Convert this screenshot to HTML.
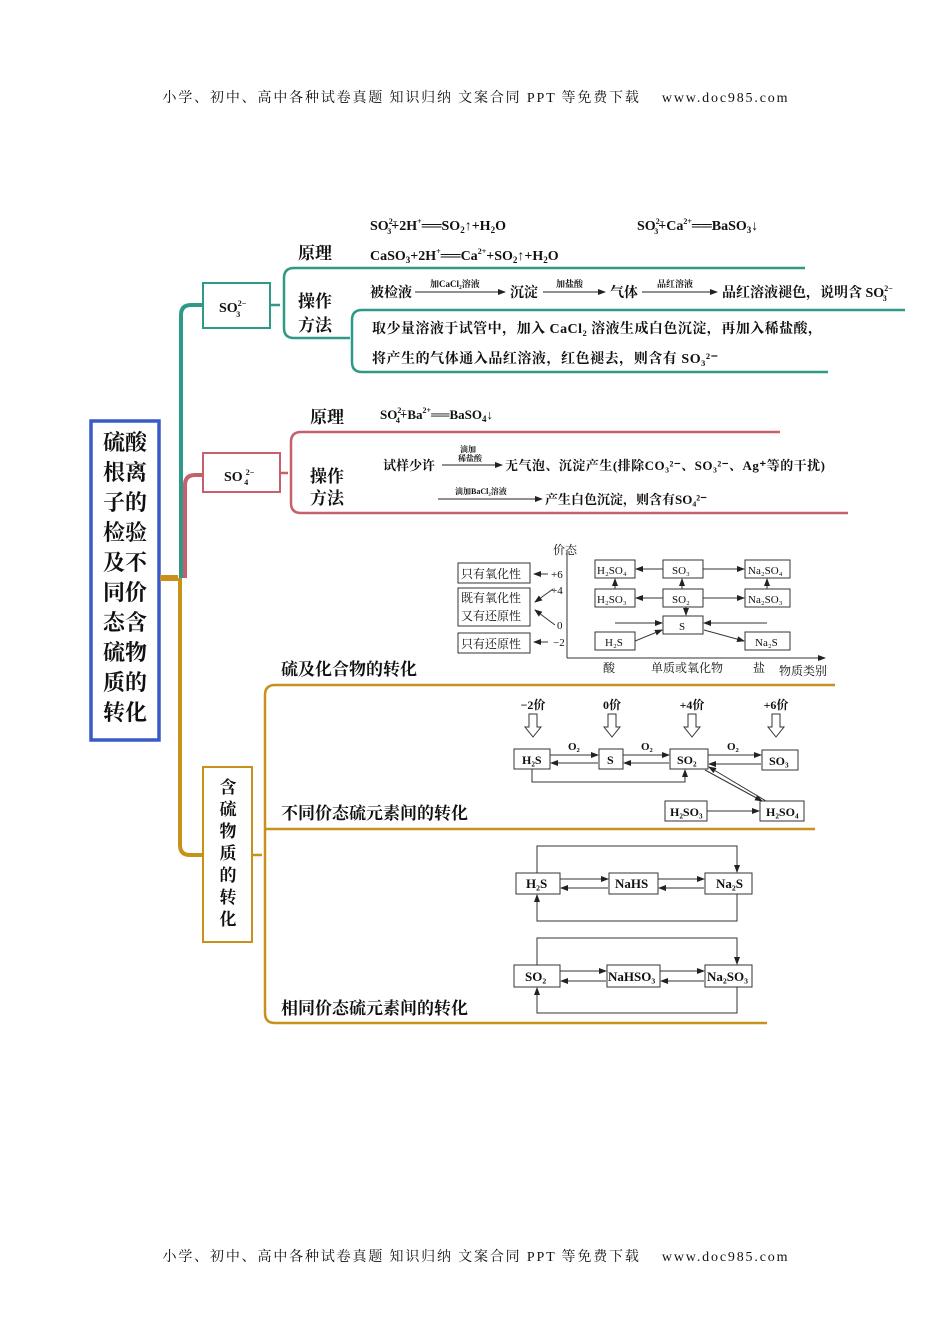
<!DOCTYPE html>
<html><head><meta charset="utf-8"><style>
html,body{margin:0;padding:0;background:#fff}
svg{display:block}
text{font-family:"Liberation Serif","Noto Serif CJK SC",serif;fill:#111}
.b{font-weight:bold}
.s{font-family:"Liberation Sans","Noto Sans CJK SC",sans-serif}
</style></head><body>
<svg width="950" height="1344" viewBox="0 0 950 1344" xmlns="http://www.w3.org/2000/svg">
<defs>
<marker id="a" markerWidth="8" markerHeight="6" refX="7" refY="3" orient="auto"><path d="M0,0 L8,3 L0,6 Z" fill="#222"/></marker>
</defs>
<text x="475" y="102" font-size="14" text-anchor="middle" fill="#333" textLength="625">小学、初中、高中各种试卷真题 知识归纳 文案合同 PPT 等免费下载 　www.doc985.com</text>
<text x="475" y="1261" font-size="14" text-anchor="middle" fill="#333" textLength="625">小学、初中、高中各种试卷真题 知识归纳 文案合同 PPT 等免费下载 　www.doc985.com</text>

<!-- blue title box -->
<rect x="91" y="421" width="68" height="319" fill="#fff" stroke="#3a5bc7" stroke-width="3.5"/>
<g class="s b" font-size="22" text-anchor="middle" style="font-family:'Noto Sans CJK SC',sans-serif">
<text x="125" y="450">硫酸</text><text x="125" y="480">根离</text><text x="125" y="510">子的</text><text x="125" y="540">检验</text><text x="125" y="570">及不</text><text x="125" y="600">同价</text><text x="125" y="630">态含</text><text x="125" y="660">硫物</text><text x="125" y="690">质的</text><text x="125" y="720">转化</text>
</g>

<!-- trunks -->
<path d="M160,578 H178" stroke="#c8911c" stroke-width="6" fill="none"/>
<path d="M181,578 V315 Q181,305 191,305 H203" stroke="#2f9988" stroke-width="4" fill="none"/>
<path d="M185,578 V485 Q185,475 195,475 H203" stroke="#c5606c" stroke-width="4" fill="none"/>
<path d="M180,578 V845 Q180,855 190,855 H203" stroke="#c8911c" stroke-width="4" fill="none"/>

<!-- SO3 branch -->
<rect x="203" y="283" width="67" height="45" fill="#fff" stroke="#2f9988" stroke-width="2"/>
<text x="219" y="312" font-size="14" class="b">SO<tspan font-size="8" dy="-6">2−</tspan><tspan font-size="8" dx="-10" dy="11">3</tspan></text>
<g stroke="#2f9988" stroke-width="2.5" fill="none">
<path d="M270,305 H280"/>
<path d="M284,305 V278 Q284,268 294,268 H805"/>
<path d="M284,305 V328 Q284,338 294,338 H350"/>
<path d="M352,338 V320 Q352,310 362,310 H905"/>
<path d="M352,338 V362 Q352,372 362,372 H828"/>
</g>
<g class="b" font-size="17"><text x="298" y="259">原理</text><text x="298" y="307">操作</text><text x="298" y="331">方法</text></g>
<g class="b" font-size="14">
<text x="370" y="230">SO<tspan font-size="8" dy="-6">2−</tspan><tspan font-size="8" dx="-10" dy="10">3</tspan><tspan dy="-4">+2H</tspan><tspan font-size="8" dy="-6">+</tspan><tspan dy="6">══SO</tspan><tspan font-size="9" dy="3">2</tspan><tspan dy="-3">↑+H</tspan><tspan font-size="9" dy="3">2</tspan><tspan dy="-3">O</tspan></text>
<text x="637" y="230">SO<tspan font-size="8" dy="-6">2−</tspan><tspan font-size="8" dx="-10" dy="10">3</tspan><tspan dy="-4">+Ca</tspan><tspan font-size="8" dy="-6">2+</tspan><tspan dy="6">══BaSO</tspan><tspan font-size="9" dy="3">3</tspan><tspan dy="-3">↓</tspan></text>
<text x="370" y="260">CaSO<tspan font-size="9" dy="3">3</tspan><tspan dy="-3">+2H</tspan><tspan font-size="8" dy="-6">+</tspan><tspan dy="6">══Ca</tspan><tspan font-size="8" dy="-6">2+</tspan><tspan dy="6">+SO</tspan><tspan font-size="9" dy="3">2</tspan><tspan dy="-3">↑+H</tspan><tspan font-size="9" dy="3">2</tspan><tspan dy="-3">O</tspan></text>
<text x="370" y="297">被检液</text>
<text x="510" y="297">沉淀</text>
<text x="610" y="297">气体</text>
<text x="722" y="297">品红溶液褪色，说明含 SO<tspan font-size="8" dy="-6">2−</tspan><tspan font-size="8" dx="-10" dy="10">3</tspan></text>
<text x="372" y="333" textLength="450">取少量溶液于试管中，加入 CaCl₂ 溶液生成白色沉淀，再加入稀盐酸，</text>
<text x="372" y="363" textLength="346">将产生的气体通入品红溶液，红色褪去，则含有 SO₃²⁻</text>
</g>
<g stroke="#222" stroke-width="1" marker-end="url(#a)"><line x1="415" y1="292" x2="505" y2="292"/><line x1="543" y1="292" x2="605" y2="292"/><line x1="642" y1="292" x2="717" y2="292"/></g>
<g font-size="9" class="b"><text x="430" y="287">加CaCl₂溶液</text><text x="556" y="287">加盐酸</text><text x="657" y="287">品红溶液</text></g>

<!-- SO4 branch -->
<rect x="203" y="453" width="77" height="39" fill="#fff" stroke="#c5606c" stroke-width="2"/>
<text x="224" y="481" font-size="14" class="b">SO<tspan font-size="8" dx="3" dy="-6">2−</tspan><tspan font-size="8" dx="-10" dy="10">4</tspan></text>
<g stroke="#c5606c" stroke-width="2.5" fill="none">
<path d="M280,473 H288"/>
<path d="M291,473 V442 Q291,432 301,432 H780"/>
<path d="M291,473 V503 Q291,513 301,513 H848"/>
</g>
<g class="b" font-size="17"><text x="310" y="423">原理</text><text x="310" y="482">操作</text><text x="310" y="504">方法</text></g>
<g class="b" font-size="13">
<text x="380" y="419">SO<tspan font-size="8" dy="-6">2−</tspan><tspan font-size="8" dx="-10" dy="10">4</tspan><tspan dy="-4">+Ba</tspan><tspan font-size="8" dy="-6">2+</tspan><tspan dy="6">══BaSO</tspan><tspan font-size="9" dy="3">4</tspan><tspan dy="-3">↓</tspan></text>
<text x="383" y="470">试样少许</text>
<text x="505" y="470" textLength="320">无气泡、沉淀产生(排除CO₃²⁻、SO₃²⁻、Ag⁺等的干扰)</text>
<text x="545" y="504">产生白色沉淀，则含有SO₄²⁻</text>
</g>
<g stroke="#222" stroke-width="1" marker-end="url(#a)"><line x1="442" y1="465" x2="502" y2="465"/><line x1="438" y1="499" x2="542" y2="499"/></g>
<g font-size="8" class="b"><text x="460" y="452">滴加</text><text x="458" y="461">稀盐酸</text><text x="455" y="494">滴加BaCl₂溶液</text></g>

<!-- gold branch -->
<rect x="203" y="767" width="49" height="175" fill="#fff" stroke="#c8911c" stroke-width="2"/>
<g class="b" font-size="17" text-anchor="middle"><text x="228" y="793">含</text><text x="228" y="815">硫</text><text x="228" y="837">物</text><text x="228" y="859">质</text><text x="228" y="881">的</text><text x="228" y="903">转</text><text x="228" y="925">化</text></g>
<g stroke="#c8911c" stroke-width="2.5" fill="none">
<path d="M252,855 H262"/>
<path d="M265,855 V695 Q265,685 275,685 H835"/>
<path d="M265,829 H815"/>
<path d="M265,855 V1013 Q265,1023 275,1023 H767"/>
</g>
<g class="b" font-size="17"><text x="281" y="675">硫及化合物的转化</text><text x="281" y="819">不同价态硫元素间的转化</text><text x="281" y="1014">相同价态硫元素间的转化</text></g>

<!-- valence chart -->
<g font-size="12" fill="#222">
<text x="553" y="554">价态</text>
<line x1="567" y1="550" x2="567" y2="658" stroke="#333"/><line x1="567" y1="658" x2="825" y2="658" stroke="#333" marker-end="url(#a)"/>
<text x="551" y="578" font-size="11">+6</text><text x="551" y="594" font-size="11">+4</text><text x="557" y="629" font-size="11">0</text><text x="553" y="646" font-size="11">−2</text>
<g fill="#fff" stroke="#333"><rect x="458" y="563" width="72" height="20"/><rect x="458" y="588" width="72" height="38"/><rect x="458" y="633" width="72" height="20"/>
<rect x="595" y="560" width="40" height="18"/><rect x="663" y="560" width="40" height="18"/><rect x="745" y="560" width="45" height="18"/>
<rect x="595" y="589" width="40" height="18"/><rect x="663" y="589" width="40" height="18"/><rect x="745" y="589" width="45" height="18"/>
<rect x="663" y="616" width="40" height="18"/><rect x="595" y="632" width="40" height="18"/><rect x="745" y="632" width="45" height="18"/></g>
<text x="461" y="578">只有氧化性</text><text x="461" y="602">既有氧化性</text><text x="461" y="620">又有还原性</text><text x="461" y="648">只有还原性</text>
<text x="597" y="574" font-size="11">H₂SO₄</text><text x="672" y="574" font-size="11">SO₃</text><text x="748" y="574" font-size="11">Na₂SO₄</text>
<text x="597" y="603" font-size="11">H₂SO₃</text><text x="672" y="603" font-size="11">SO₂</text><text x="748" y="603" font-size="11">Na₂SO₃</text>
<text x="679" y="630" font-size="11">S</text><text x="605" y="646" font-size="11">H₂S</text><text x="755" y="646" font-size="11">Na₂S</text>
<text x="603" y="672">酸</text><text x="651" y="672">单质或氧化物</text><text x="753" y="672">盐</text><text x="779" y="675">物质类别</text>
</g>
<g stroke="#333" stroke-width="1" fill="none" marker-end="url(#a)">
<line x1="548" y1="574" x2="534" y2="574"/><line x1="548" y1="642" x2="534" y2="642"/><line x1="553" y1="589" x2="535" y2="602"/><line x1="555" y1="625" x2="535" y2="610"/>
<line x1="663" y1="569" x2="636" y2="569"/><line x1="703" y1="569" x2="744" y2="569"/>
<line x1="663" y1="598" x2="636" y2="598"/><line x1="703" y1="598" x2="744" y2="598"/>
<line x1="615" y1="589" x2="615" y2="579"/><line x1="767" y1="589" x2="767" y2="579"/><line x1="682" y1="589" x2="682" y2="579"/>
<line x1="686" y1="607" x2="686" y2="615"/><line x1="615" y1="623" x2="662" y2="623"/><line x1="767" y1="623" x2="704" y2="623"/>
<line x1="635" y1="641" x2="662" y2="630"/><line x1="704" y1="630" x2="744" y2="641"/>
</g>

<!-- different valence -->
<g font-size="12" class="b" text-anchor="middle"><text x="533" y="709">−2价</text><text x="612" y="709">0价</text><text x="692" y="709">+4价</text><text x="776" y="709">+6价</text></g>
<g fill="none" stroke="#333"><path d="M529,714 V727 H525 L533,737 L541,727 H537 V714 Z"/><path d="M608,714 V727 H604 L612,737 L620,727 H616 V714 Z"/><path d="M688,714 V727 H684 L692,737 L700,727 H696 V714 Z"/><path d="M772,714 V727 H768 L776,737 L784,727 H780 V714 Z"/></g>
<g fill="#fff" stroke="#333"><rect x="514" y="749" width="36" height="20"/><rect x="599" y="749" width="24" height="20"/><rect x="670" y="749" width="38" height="20"/><rect x="762" y="750" width="36" height="20"/><rect x="665" y="801" width="42" height="20"/><rect x="760" y="801" width="44" height="20"/></g>
<g font-size="12" class="b"><text x="522" y="764">H₂S</text><text x="607" y="764">S</text><text x="677" y="764">SO₂</text><text x="769" y="765">SO₃</text><text x="670" y="816">H₂SO₃</text><text x="766" y="816">H₂SO₄</text>
<text x="568" y="750" font-size="11">O₂</text><text x="641" y="750" font-size="11">O₂</text><text x="727" y="750" font-size="11">O₂</text></g>
<g stroke="#333" stroke-width="1" fill="none" marker-end="url(#a)">
<line x1="550" y1="755" x2="598" y2="755"/><line x1="598" y1="763" x2="551" y2="763"/>
<line x1="623" y1="755" x2="669" y2="755"/><line x1="669" y1="763" x2="624" y2="763"/>
<line x1="708" y1="755" x2="761" y2="755"/><line x1="761" y1="764" x2="709" y2="764"/>
<path d="M532,769 V782 H685 V770"/><line x1="707" y1="811" x2="759" y2="811"/>
<line x1="705" y1="770" x2="762" y2="801"/><line x1="766" y1="801" x2="709" y2="767"/>
</g>

<!-- same valence -->
<g fill="#fff" stroke="#333"><rect x="516" y="873" width="44" height="21"/><rect x="609" y="873" width="49" height="21"/><rect x="705" y="873" width="47" height="21"/>
<rect x="514" y="965" width="46" height="22"/><rect x="607" y="965" width="53" height="22"/><rect x="705" y="965" width="47" height="22"/></g>
<g font-size="13" class="b"><text x="526" y="888">H₂S</text><text x="615" y="888">NaHS</text><text x="716" y="888">Na₂S</text><text x="525" y="981">SO₂</text><text x="608" y="981">NaHSO₃</text><text x="707" y="981">Na₂SO₃</text></g>
<g stroke="#333" stroke-width="1" fill="none" marker-end="url(#a)">
<line x1="560" y1="879" x2="608" y2="879"/><line x1="608" y1="888" x2="561" y2="888"/><line x1="658" y1="879" x2="704" y2="879"/><line x1="704" y1="888" x2="659" y2="888"/>
<path d="M537,873 V846 H737 V872"/><path d="M737,894 V921 H537 V895"/>
<line x1="560" y1="971" x2="606" y2="971"/><line x1="606" y1="981" x2="561" y2="981"/><line x1="660" y1="971" x2="704" y2="971"/><line x1="704" y1="981" x2="661" y2="981"/>
<path d="M537,965 V938 H737 V964"/><path d="M737,987 V1013 H537 V988"/>
</g>
</svg>
</body></html>
